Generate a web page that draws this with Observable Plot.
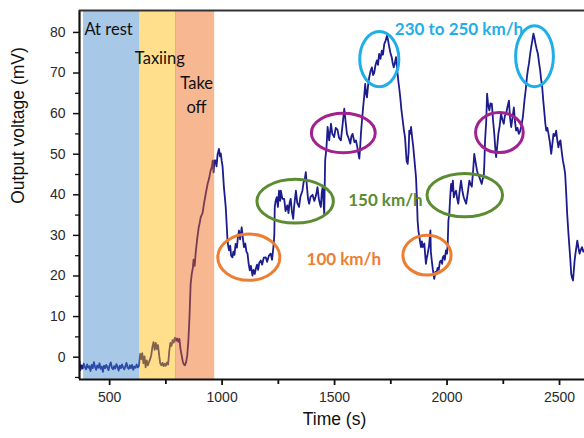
<!DOCTYPE html>
<html>
<head>
<meta charset="utf-8">
<script src="https://cdn.jsdelivr.net/npm/d3@7"></script>
<script src="https://cdn.jsdelivr.net/npm/@observablehq/plot@0.6"></script>
<style>
  html, body { margin: 0; padding: 0; background: #fff; }
  #chart { width: 584px; height: 438px; overflow: hidden; }
</style>
</head>
<body>
<div id="chart"></div>
<script>
// ---------- data ----------
// measured signal: [time (s), output voltage (mV)]
const signal = [
[366,-1.0],[370,-3.2],[375,-2.0],[380,-2.8],[385,-1.6],[390,-2.5],[395,-3.0],[400,-1.8],[405,-2.6],[410,-2.2],
[415,-3.4],[420,-1.9],[425,-2.7],[430,-1.2],[435,-2.4],[440,-3.1],[445,-2.0],[450,-2.6],[455,-1.5],[460,-2.9],
[465,-2.3],[470,-3.6],[475,-2.1],[480,-2.7],[485,-1.9],[490,-2.5],[495,-3.2],[500,-2.0],[505,-1.3],[510,-2.6],
[515,-3.0],[520,-2.2],[525,-2.8],[530,-1.7],[535,-2.4],[540,-3.3],[545,-2.1],[550,-2.7],[555,-1.8],[560,-2.5],
[565,-3.0],[570,-2.2],[575,-1.4],[580,-2.6],[585,-2.9],[590,-2.0],[595,-2.7],[600,-1.9],[605,-3.1],[610,-2.3],
[615,-2.6],[620,-1.8],[625,-2.5],[630,-2.2],
[636,0.8],[640,-0.5],[645,1.0],[650,-1.5],[655,0.2],[660,-2.5],[665,-0.8],[670,-2.0],[675,-1.2],[680,-0.5],
[685,0.5],[690,2.5],[695,3.7],[700,1.8],[705,3.5],[710,2.0],[715,3.0],[720,0.5],[725,-1.5],[730,-2.0],
[735,-1.4],[740,-2.2],[745,-1.6],[750,-2.1],[755,-1.3],[760,-1.8],[765,1.5],[770,3.5],[775,2.8],[780,4.2],
[785,3.6],[790,4.8],[795,4.0],
[800,4.6],[805,3.8],[810,4.5],[815,2.0],[820,0.5],[825,-1.0],[830,-1.8],[835,-2.0],[840,-1.2],[845,0.5],
[850,4.0],[855,10.0],[860,18.0],[865,20.5],[870,22.0],[873,24.0],[878,22.5],[883,26.0],[890,29.5],[896,32.0],
[900,33.0],[905,34.5],[913,35.5],[920,38.0],[928,40.5],[936,42.8],[942,44.0],[949,46.0],[955,47.0],[958,48.4],
[962,45.5],[966,48.5],
[971,48.4],[975,47.0],[980,50.0],[986,51.3],[990,49.5],[994,50.2],[998,48.4],[1002,47.0],[1008,41.9],[1012,39.5],
[1016,37.0],[1020,33.0],[1024,28.7],[1028,27.0],[1031,26.3],[1036,27.5],[1040,25.0],[1046,24.6],[1050,26.0],[1055,25.2],
[1060,27.9],[1066,27.0],[1070,29.5],[1075,31.2],[1080,29.0],[1087,32.0],[1092,29.5],[1097,27.1],[1103,28.0],[1108,26.0],
[1113,25.5],[1118,23.0],[1123,21.4],[1128,22.5],[1135,20.1],[1140,21.5],[1145,20.5],[1150,21.8],[1155,22.8],[1160,21.5],
[1165,23.2],[1172,23.8],[1178,22.8],[1185,24.5],[1194,24.6],[1200,23.5],[1208,25.0],[1216,25.5],[1222,24.0],[1228,27.1],
[1232,30.0],[1234,37.0],[1238,38.5],[1243,39.4],[1248,37.0],[1253,41.0],[1258,38.5],[1261,41.0],[1268,39.0],[1276,39.0],
[1282,36.0],[1290,37.4],[1295,35.5],[1300,38.0],[1305,39.0],[1310,36.0],[1316,34.1],[1320,37.0],[1328,41.0],[1334,38.0],
[1342,37.0],[1348,39.5],[1357,41.0],[1362,43.0],[1368,44.0],[1372,45.6],[1377,42.0],[1382,39.0],[1387,37.8],[1393,39.5],
[1402,40.0],[1410,38.5],[1418,40.0],[1424,41.9],[1430,39.0],[1436,37.5],[1439,37.0],[1443,40.5],[1447,41.9],[1451,38.0],
[1454,35.3],[1458,48.4],[1464,51.7],[1469,56.7],[1476,53.4],[1484,57.5],[1490,55.0],[1498,54.2],[1505,56.5],[1513,56.0],
[1520,54.0],[1528,53.4],[1535,57.0],[1543,61.2],[1549,58.0],[1555,55.0],[1562,54.0],[1570,52.6],[1575,54.5],[1580,55.0],
[1588,53.0],[1595,53.4],[1602,51.5],[1608,49.5],[1610,48.9],[1614,52.0],[1617,55.0],[1622,58.5],[1627,61.6],[1632,64.5],
[1636,67.3],[1640,65.0],[1644,64.0],[1649,67.0],[1654,69.0],[1660,70.5],[1666,71.4],[1671,69.5],[1676,70.0],[1682,72.0],
[1688,73.1],[1693,72.0],[1698,74.7],[1704,73.5],[1710,75.5],[1715,74.5],[1721,77.2],[1727,78.0],[1733,79.2],[1738,78.0],
[1743,76.4],[1748,75.0],[1754,73.9],[1758,72.5],[1763,71.4],[1768,72.5],[1773,73.9],[1778,71.0],[1783,68.2],[1788,66.0],
[1792,64.0],[1797,61.0],[1803,58.3],[1808,56.0],[1813,54.2],[1817,51.0],[1820,48.4],[1825,47.6],[1829,50.5],[1832,55.8],
[1836,55.0],[1840,56.7],[1845,54.0],[1850,51.7],[1856,48.0],[1862,44.3],[1866,39.0],[1869,33.7],[1873,31.0],[1877,29.6],
[1884,27.1],[1888,28.5],[1892,27.1],[1899,28.0],[1903,25.0],[1906,23.0],[1910,24.5],[1914,25.5],[1920,27.5],[1926,31.2],
[1928,26.0],[1932,23.8],[1937,21.5],[1943,19.3],[1948,21.0],[1952,20.5],[1958,22.0],[1963,21.5],[1968,23.5],[1973,23.8],
[1978,23.0],[1981,24.6],[1986,25.0],[1990,24.0],[1995,26.3],[2000,25.5],[2003,28.0],[2006,33.7],[2010,35.3],[2014,39.5],
[2018,42.7],[2022,41.0],[2026,43.5],[2030,39.4],[2035,40.5],[2040,41.0],[2045,39.0],[2050,37.8],[2055,40.5],[2062,43.5],
[2068,41.0],[2074,39.4],[2080,38.5],[2085,37.8],[2092,40.5],[2099,43.5],[2105,42.5],[2110,42.0],[2116,46.0],[2121,50.1],
[2127,48.0],[2133,46.0],[2138,45.0],[2144,44.3],[2149,43.5],[2154,42.7],[2159,44.0],[2163,44.3],[2166,48.0],[2169,53.4],
[2174,58.0],[2178,64.9],[2183,62.0],[2188,60.8],[2193,62.5],[2199,62.4],[2205,58.0],[2210,55.0],[2215,51.0],[2218,49.3],
[2223,52.0],[2228,55.0],[2234,57.0],[2240,60.0],[2246,58.5],[2252,57.5],[2257,59.5],[2263,60.0],[2268,61.5],[2275,63.2],
[2280,59.0],[2285,56.7],[2291,59.0],[2297,61.5],[2302,58.0],[2307,55.8],[2313,56.5],[2319,55.0],[2324,55.5],[2329,56.7],
[2337,59.1],[2344,63.2],[2350,66.0],[2355,69.0],[2360,71.0],[2364,72.3],[2369,74.5],[2374,76.4],[2379,78.0],[2384,79.7],
[2389,78.5],[2393,77.2],[2398,76.0],[2404,74.7],[2409,72.5],[2414,70.6],[2418,68.5],[2423,66.5],[2428,63.0],[2433,60.0],
[2437,57.5],[2441,55.8],[2446,56.5],[2451,55.0],[2457,53.0],[2463,50.1],[2468,52.5],[2473,55.0],[2479,54.5],[2485,55.8],
[2490,53.5],[2495,51.7],[2500,53.0],[2504,53.4],[2510,50.5],[2515,48.4],[2520,47.0],[2525,45.2],[2530,40.0],[2534,35.3],
[2539,31.0],[2544,27.1],[2548,24.0],[2552,20.5],[2556,19.5],[2560,18.9],[2563,21.0],[2567,23.8],[2572,26.0],[2579,28.7],
[2584,27.0],[2589,25.5],[2595,26.5],[2600,27.1],[2606,26.0],[2611,26.3],[2620,27.0]
];

// flight phases (shaded bands)
const phaseNames = ["At rest", "Taxiing", "Take off"];
const phaseStart = [384, 634, 793];
const phaseEnd   = [634, 796, 967];

// phase labels (left-aligned ones, then centred ones)
const phaseLabelText = ["At rest", "Taxiing"];
const phaseLabelTime = [388, 612];
const phaseLabelVolt = [80.7, 73.6];
const takeoffLabelText = ["Take", "off"];
const takeoffLabelTime = [887, 886];
const takeoffLabelVolt = [67.4, 61.5];

// speed regions (ellipses)
const regionSpeed    = ["100", "100", "150", "150", "mid", "mid", "top", "top"];
const regionTime     = [1121, 1913, 1327, 2081, 1541, 2235, 1701, 2391];
const regionVolt     = [24.5, 25.0, 38.3, 39.8, 55.1, 55.2, 73.3, 74.0];
const regionHalfTime = [138, 107, 170, 168, 142, 106, 87, 84];
const regionHalfVolt = [5.7, 4.9, 5.4, 5.35, 4.85, 4.93, 6.8, 7.5];

// speed labels
const speedLabelText  = ["230 to 250 km/h", "150 km/h", "100 km/h"];
const speedLabelSpeed = ["top", "150", "100"];
const speedLabelTime  = [2053, 1726, 1541];
const speedLabelVolt  = [80.6, 38.6, 24.0];

// axis ticks
const xTicks = [500, 1000, 1500, 2000, 2500];
const xMinorTicks = [750, 1250, 1750, 2250];
const yTicks = [0, 10, 20, 30, 40, 50, 60, 70, 80];
const yMinorTicks = [-5, 5, 15, 25, 35, 45, 55, 65, 75];
const xDomain = [366, 2611];
const yDomain = [-5.5, 85.4];

// ---------- styles ----------
const phaseColor = {"At rest": "#3f86cd", "Taxiing": "#ffb800", "Take off": "#ea600c"};
const speedColor = {"100": "#ed7d31", "150": "#5b8c32", "mid": "#a3218f", "top": "#1eaee8"};

const bands = phaseNames.map((p, i) => ({phase: p, start: phaseStart[i], end: phaseEnd[i]}));
const phaseLabels = phaseLabelText.map((t, i) => ({text: t, t: phaseLabelTime[i], v: phaseLabelVolt[i]}));
const takeoffLabels = takeoffLabelText.map((t, i) => ({text: t, t: takeoffLabelTime[i], v: takeoffLabelVolt[i]}));
const regions = regionSpeed.map((s, i) => ({speed: s, t: regionTime[i], v: regionVolt[i], rt: regionHalfTime[i], rv: regionHalfVolt[i]}));
const speedLabels = speedLabelText.map((s, i) => ({text: s, speed: speedLabelSpeed[i], t: speedLabelTime[i], v: speedLabelVolt[i]}));

const ellipseMark = (index, scales) => {
  const g = d3.create("svg:g");
  for (const e of regions) {
    const cx = scales.x(e.t), cy = scales.y(e.v);
    const rx = Math.abs(scales.x(e.t + e.rt) - cx);
    const ry = Math.abs(scales.y(e.v + e.rv) - cy);
    g.append("ellipse")
      .attr("cx", cx).attr("cy", cy).attr("rx", rx).attr("ry", ry)
      .attr("fill", "none").attr("stroke", speedColor[e.speed]).attr("stroke-width", 3);
  }
  return g.node();
};

const labelFont = "Lato, 'Open Sans', sans-serif";

const chart = Plot.plot({
  width: 584,
  height: 438,
  marginLeft: 79,
  marginRight: 0,
  marginTop: 10,
  marginBottom: 59,
  style: {fontFamily: "'Liberation Sans', Arial, sans-serif", fontSize: "14px", color: "#2a2a2a", background: "#fff"},
  x: {domain: xDomain},
  y: {domain: yDomain},
  marks: [
    Plot.line(signal, {x: d => d[0], y: d => d[1], stroke: "#1c1c8c", strokeWidth: 1.8, clip: true}),
    Plot.rect(bands, {x1: "start", x2: "end", fill: d => phaseColor[d.phase], fillOpacity: 0.45}),
    ellipseMark,
    Plot.text(phaseLabels, {x: "t", y: "v", text: "text", textAnchor: "start", fill: "#111", fontSize: 16.5, fontFamily: labelFont}),
    Plot.text(takeoffLabels, {x: "t", y: "v", text: "text", textAnchor: "middle", fill: "#111", fontSize: 16.5, fontFamily: labelFont}),
    Plot.text(speedLabels, {x: "t", y: "v", text: "text", fill: d => speedColor[d.speed], fontSize: 17, fontWeight: "bold", fontFamily: labelFont}),
    // axes
    Plot.axisX({ticks: xTicks, tickSize: 6, tickPadding: 7, tickFormat: d => String(d), label: null, strokeWidth: 1.8, stroke: "#111"}),
    Plot.axisX({ticks: xMinorTicks, tickSize: 5, text: null, label: null, strokeWidth: 1.8, stroke: "#111"}),
    Plot.axisY({ticks: yTicks, tickSize: 6, tickPadding: 8, label: null, strokeWidth: 1.5, stroke: "#111"}),
    Plot.axisY({ticks: yMinorTicks, tickSize: 4, text: null, label: null, strokeWidth: 1.3, stroke: "#111"}),
    Plot.ruleX([xDomain[0]], {stroke: "#111", strokeWidth: 2.2}),
    Plot.ruleY([yDomain[0]], {stroke: "#111", strokeWidth: 2.2}),
    Plot.ruleY([yDomain[1]], {stroke: "#333", strokeWidth: 2.2}),
    Plot.text(["Time (s)"], {frameAnchor: "bottom", dx: 2.5, dy: 45, fontSize: 17.5, fill: "#111"}),
    Plot.text(["Output voltage (mV)"], {frameAnchor: "left", rotate: -90, dx: -61.5, dy: 8.8, fontSize: 17.5, fill: "#111"})
  ]
});
document.getElementById("chart").append(chart);
</script>
</body>
</html>
